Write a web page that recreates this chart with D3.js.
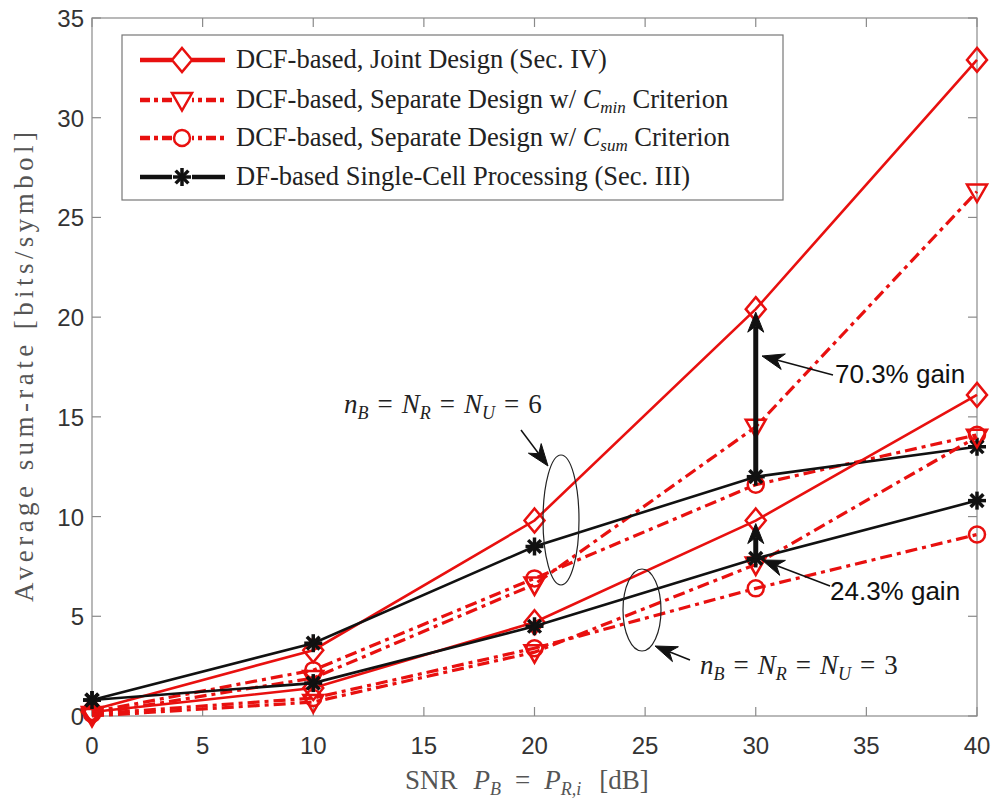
<!DOCTYPE html>
<html>
<head>
<meta charset="utf-8">
<script src="https://cdn.jsdelivr.net/npm/d3@7"></script>
<style>
  body { margin: 0; background: #fff; }
  svg { display: block; }
</style>
</head>
<body>
<svg id="chart" width="997" height="803"></svg>
<script>
// data
var snr = [0, 10, 20, 30, 40];
var joint6 = [0.3, 3.3, 9.8, 20.4, 32.9];
var cmin6 = [0.1, 1.9, 6.6, 14.5, 26.3];
var csum6 = [0.2, 2.3, 6.9, 11.6, 14.1];
var df6 = [0.8, 3.65, 8.5, 12.0, 13.5];
var joint3 = [0.2, 1.4, 4.7, 9.8, 16.1];
var cmin3 = [0.0, 0.7, 3.2, 7.6, 14.0];
var csum3 = [0.1, 0.9, 3.4, 6.4, 9.1];
var df3 = [0.8, 1.65, 4.5, 7.9, 10.8];
var xTicks = [0, 5, 10, 15, 20, 25, 30, 35, 40];
var yTicks = [0, 5, 10, 15, 20, 25, 30, 35];

var RED = '#e8100f';
var svg = d3.select('#chart');
var plot = { left: 92, right: 977, top: 18, bottom: 716 };

var x = d3.scaleLinear().domain([0, 40]).range([plot.left, plot.right]);
var y = d3.scaleLinear().domain([0, 35]).range([plot.bottom, plot.top]);

var serif = 'Liberation Serif, DejaVu Serif, serif';
var sans = 'Liberation Sans, Arial, sans-serif';

// axes box + ticks (inside, mirrored)
var axColor = '#8a8a8a';
var box = svg.append('g');
box.append('rect')
    .attr('x', plot.left).attr('y', plot.top)
    .attr('width', plot.right - plot.left).attr('height', plot.bottom - plot.top)
    .attr('fill', 'none').attr('stroke', axColor).attr('stroke-width', 1.2);

xTicks.forEach(function(t) {
    box.append('line').attr('x1', x(t)).attr('x2', x(t))
        .attr('y1', plot.bottom).attr('y2', plot.bottom - 9)
        .attr('stroke', axColor).attr('stroke-width', 1.2);
    box.append('line').attr('x1', x(t)).attr('x2', x(t))
        .attr('y1', plot.top).attr('y2', plot.top + 9)
        .attr('stroke', axColor).attr('stroke-width', 1.2);
    box.append('text').attr('x', x(t)).attr('y', 754)
        .attr('text-anchor', 'middle')
        .style('font-family', sans)
        .style('font-size', '24px').style('fill', '#333')
        .text(t);
});
yTicks.forEach(function(t) {
    box.append('line').attr('x1', plot.left).attr('x2', plot.left + 9)
        .attr('y1', y(t)).attr('y2', y(t))
        .attr('stroke', axColor).attr('stroke-width', 1.2);
    box.append('line').attr('x1', plot.right).attr('x2', plot.right - 9)
        .attr('y1', y(t)).attr('y2', y(t))
        .attr('stroke', axColor).attr('stroke-width', 1.2);
    box.append('text').attr('x', plot.left - 8).attr('y', y(t) + 9)
        .attr('text-anchor', 'end')
        .style('font-family', sans)
        .style('font-size', '24px').style('fill', '#333')
        .text(t);
});

// axis labels
svg.append('text')
    .attr('transform', 'translate(33,' + ((plot.top + plot.bottom) / 2) + ') rotate(-90)')
    .attr('text-anchor', 'middle')
    .attr('textLength', 470).attr('lengthAdjust', 'spacing')
    .style('font-family', serif).style('font-size', '27px').style('fill', '#555')
    .text('Average sum-rate [bits/symbol]');

var xl = svg.append('text')
    .attr('x', 405).attr('y', 789)
    .style('font-family', serif).style('font-size', '27px').style('fill', '#555');
xl.append('tspan').text('SNR');
xl.append('tspan').attr('dx', 16).style('font-style', 'italic').text('P');
xl.append('tspan').attr('dy', 6).style('font-size', '18px').style('font-style', 'italic').text('B');
xl.append('tspan').attr('dy', -6).attr('dx', 14).text('=');
xl.append('tspan').attr('dx', 14).style('font-style', 'italic').text('P');
xl.append('tspan').attr('dy', 6).style('font-size', '18px').style('font-style', 'italic').text('R,i');
xl.append('tspan').attr('dy', -6).attr('dx', 18).text('[dB]');

// series
var series = [
    { vals: joint6, color: RED, dash: null, marker: 'diamond' },
    { vals: cmin6, color: RED, dash: '12,5,4,5', marker: 'triangle' },
    { vals: csum6, color: RED, dash: '12,5,4,5', marker: 'circle' },
    { vals: df6, color: '#111', dash: null, marker: 'star' },
    { vals: joint3, color: RED, dash: null, marker: 'diamond' },
    { vals: cmin3, color: RED, dash: '12,5,4,5', marker: 'triangle' },
    { vals: csum3, color: RED, dash: '12,5,4,5', marker: 'circle' },
    { vals: df3, color: '#111', dash: null, marker: 'star' }
];

var line = d3.line().x(function(d) { return x(d[0]); }).y(function(d) { return y(d[1]); });

function drawMarker(g, type, cx, cy, color) {
    if (type === 'diamond') {
        var h = 12, w = 10;
        g.append('path').attr('d', 'M' + cx + ',' + (cy - h) + 'L' + (cx + w) + ',' + cy + 'L' + cx + ',' + (cy + h) + 'L' + (cx - w) + ',' + cy + 'Z')
            .attr('fill', 'none').attr('stroke', color).attr('stroke-width', 2.5);
    } else if (type === 'triangle') {
        var r = 10;
        g.append('path').attr('d', 'M' + (cx - r) + ',' + (cy - r * 0.7) + 'L' + (cx + r) + ',' + (cy - r * 0.7) + 'L' + cx + ',' + (cy + r * 1.05) + 'Z')
            .attr('fill', 'none').attr('stroke', color).attr('stroke-width', 2.5);
    } else if (type === 'circle') {
        g.append('circle').attr('cx', cx).attr('cy', cy).attr('r', 8)
            .attr('fill', 'none').attr('stroke', color).attr('stroke-width', 2.5);
    } else if (type === 'star') {
        var r2 = 9;
        for (var a = 0; a < 4; a++) {
            var ang = a * Math.PI / 4;
            g.append('line')
                .attr('x1', cx - r2 * Math.cos(ang)).attr('y1', cy - r2 * Math.sin(ang))
                .attr('x2', cx + r2 * Math.cos(ang)).attr('y2', cy + r2 * Math.sin(ang))
                .attr('stroke', color).attr('stroke-width', 3.5);
        }
    }
}

var lines = svg.append('g');
series.forEach(function(s) {
    var pts = snr.map(function(v, i) { return [v, s.vals[i]]; });
    lines.append('path').datum(pts)
        .attr('d', line)
        .attr('fill', 'none')
        .attr('stroke', s.color)
        .attr('stroke-width', s.dash ? 3.2 : 2.6)
        .attr('stroke-dasharray', s.dash);
    pts.forEach(function(p) {
        drawMarker(lines, s.marker, x(p[0]), y(p[1]), s.color);
    });
});

// arrowheads (matlab vback2 style)
function arrowHead(g, x1, y1, x2, y2, len, wid, color) {
    var a = Math.atan2(y2 - y1, x2 - x1);
    var ca = Math.cos(a), sa = Math.sin(a);
    function p(u, v) { return [x2 + u * ca - v * sa, y2 + u * sa + v * ca]; }
    var pts = [p(0, 0), p(-len, wid / 2), p(-len * 0.7, 0), p(-len, -wid / 2)];
    g.append('path').attr('d', 'M' + pts.map(function(q) { return q.join(','); }).join('L') + 'Z')
        .attr('fill', color).attr('stroke', color).attr('stroke-width', 1);
}
function arrow(g, x1, y1, x2, y2, w, len, wid) {
    var a = Math.atan2(y2 - y1, x2 - x1);
    g.append('line').attr('x1', x1).attr('y1', y1)
        .attr('x2', x2 - Math.cos(a) * len * 0.7).attr('y2', y2 - Math.sin(a) * len * 0.7)
        .attr('stroke', '#111').attr('stroke-width', w);
    arrowHead(g, x1, y1, x2, y2, len, wid, '#111');
}

var ann = svg.append('g');
// gain arrows between DF and joint design at SNR = 30 dB
arrow(ann, x(30), y(df6[3]), x(30), y(joint6[3]) + 3, 5, 20, 16);
arrow(ann, x(30), y(df3[3]), x(30), y(joint3[3]) + 3, 5, 20, 16);
arrow(ann, 833, 375, 762, 356, 1.5, 22, 16);
arrow(ann, 830, 586, 762, 560, 1.5, 22, 16);

ann.append('text').attr('x', 835).attr('y', 383)
    .style('font-family', sans).style('font-size', '26px').style('fill', '#111')
    .text('70.3% gain');
ann.append('text').attr('x', 830).attr('y', 600)
    .style('font-family', sans).style('font-size', '26px').style('fill', '#111')
    .text('24.3% gain');

// ellipses grouping the antenna cases
ann.append('ellipse').attr('cx', 561).attr('cy', 520).attr('rx', 18).attr('ry', 65)
    .attr('fill', 'none').attr('stroke', '#222').attr('stroke-width', 1.2);
ann.append('ellipse').attr('cx', 642).attr('cy', 610).attr('rx', 19).attr('ry', 41)
    .attr('fill', 'none').attr('stroke', '#222').attr('stroke-width', 1.2);
arrow(ann, 521, 430, 548, 466, 1.5, 22, 16);
arrow(ann, 690, 660, 655, 646, 1.5, 22, 16);

function mathLabel(g, tx, ty, num) {
    var t = g.append('text').attr('x', tx).attr('y', ty)
        .style('font-family', serif).style('font-size', '27px').style('fill', '#222');
    t.append('tspan').style('font-style', 'italic').text('n');
    t.append('tspan').attr('dy', 6).style('font-size', '18px').style('font-style', 'italic').text('B');
    t.append('tspan').attr('dy', -6).attr('dx', 9).text('=');
    t.append('tspan').attr('dx', 9).style('font-style', 'italic').text('N');
    t.append('tspan').attr('dy', 6).style('font-size', '18px').style('font-style', 'italic').text('R');
    t.append('tspan').attr('dy', -6).attr('dx', 9).text('=');
    t.append('tspan').attr('dx', 9).style('font-style', 'italic').text('N');
    t.append('tspan').attr('dy', 6).style('font-size', '18px').style('font-style', 'italic').text('U');
    t.append('tspan').attr('dy', -6).attr('dx', 9).text('=');
    t.append('tspan').attr('dx', 9).text(num);
}
mathLabel(ann, 344, 413, 6);
mathLabel(ann, 700, 674, 3);

// legend
var leg = svg.append('g');
leg.append('rect').attr('x', 122).attr('y', 35).attr('width', 661).attr('height', 165)
    .attr('fill', '#fff').attr('stroke', '#777').attr('stroke-width', 1.2);
var legItems = [
    { s: series[0], label: [['DCF-based, Joint Design (Sec. IV)']] },
    { s: series[1], label: [['DCF-based, Separate Design w/ '], ['C', 'i'], ['min', 'sub'], [' Criterion']] },
    { s: series[2], label: [['DCF-based, Separate Design w/ '], ['C', 'i'], ['sum', 'sub'], [' Criterion']] },
    { s: series[3], label: [['DF-based Single-Cell Processing (Sec. III)']] }
];
var legY = [60, 100, 138, 177];
legItems.forEach(function(it, i) {
    var ly = legY[i];
    leg.append('line').attr('x1', 140).attr('x2', 225).attr('y1', ly).attr('y2', ly)
        .attr('stroke', it.s.color).attr('stroke-width', 4.5)
        .attr('stroke-dasharray', it.s.dash ? '10,4,4,4' : null);
    leg.append('rect').attr('x', 172).attr('y', ly - 13).attr('width', 20).attr('height', 26).attr('fill', '#fff');
    drawMarker(leg, it.s.marker, 182, ly, it.s.color);
    var t = leg.append('text').attr('x', 236).attr('y', ly + 8)
        .style('font-family', serif).style('font-size', '26.5px').style('fill', '#222');
    var sub = false;
    it.label.forEach(function(part) {
        var ts = t.append('tspan').text(part[0]);
        if (part[1] === 'i') ts.style('font-style', 'italic');
        if (part[1] === 'sub') {
            ts.attr('dy', 5).style('font-size', '17px').style('font-style', 'italic');
            sub = true;
        } else if (sub) {
            ts.attr('dy', -5);
            sub = false;
        }
    });
});
</script>
</body>
</html>
